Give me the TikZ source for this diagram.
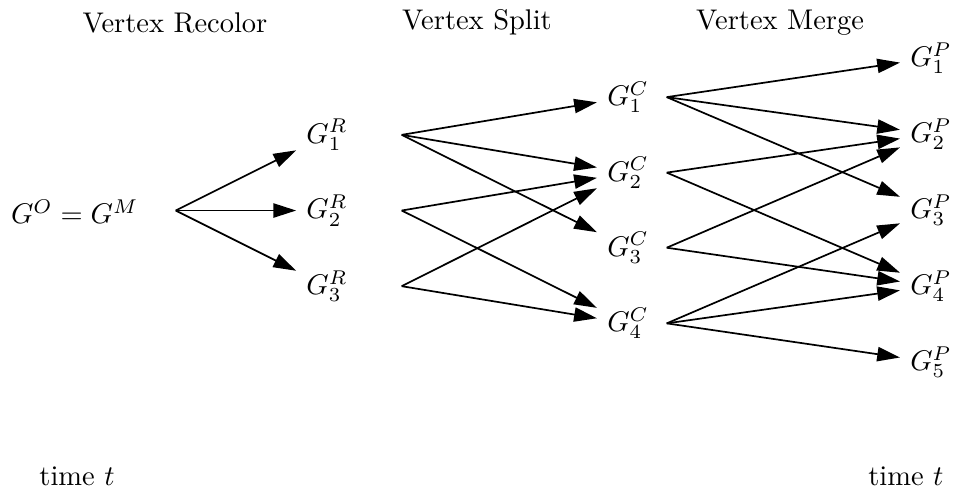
\documentclass[tikz,border=0pt]{standalone}
\usepackage{amsmath}
\usetikzlibrary{arrows.meta,positioning}

\begin{document}
\begin{tikzpicture}[>={Triangle[length=8pt,width=5pt]}, line width=0.6pt]
  % Page frame: 11.765cm x 6.025cm
  \useasboundingbox (0,0) rectangle (11.765,6.025);

  % Step titles
  \node[anchor=base] (trec) at (2.160,5.625) {Vertex Recolor};
  \node[anchor=base] (tspl) at (5.889,5.663) {Vertex Split};
  \node[anchor=base] (tmer) at (9.630,5.663) {Vertex Merge};

  % Start graph and its fan-out point
  \node (g0) at (0.922,3.41) {$G^O = G^M$};
  \coordinate (g0o) at (2.169,3.426);

  % Recolored graphs
  \foreach \i/\y in {1/4.360, 2/3.426, 3/2.492} {
    \node (r\i) at (4.037,\y) {$G^R_{\i}$};
    \coordinate (r\i o) at (4.959,\y);
  }

  % Split graphs
  \foreach \i/\y in {1/4.826, 2/3.894, 3/2.967, 4/2.033} {
    \node (c\i) at (7.753,\y) {$G^C_{\i}$};
    \coordinate (c\i o) at (8.231,\y);
  }

  % Merged graphs
  \foreach \i/\y in {1/5.309, 2/4.370, 3/3.432, 4/2.494, 5/1.556}
    \node (p\i) at (11.494,\y) {$G^P_{\i}$};

  % Edges between the steps
  \foreach \i in {1,2,3}
    \draw[->] (g0o) -- (r\i);
  \foreach \s/\t in {r1/c1, r1/c2, r1/c3, r2/c2, r2/c4, r3/c2, r3/c4}
    \draw[->] (\s o) -- (\t);
  \foreach \s/\t in {c1/p1, c1/p2, c1/p3, c2/p2, c2/p4, c3/p2, c3/p4,
                     c4/p3, c4/p4, c4/p5}
    \draw[->] (\s o) -- (\t);

  % Time labels
  \node[anchor=base] (tl) at (0.951,0.037) {time $t$};
  \node[anchor=base] (tr) at (11.183,0.037) {time $t$};
\end{tikzpicture}
\end{document}
